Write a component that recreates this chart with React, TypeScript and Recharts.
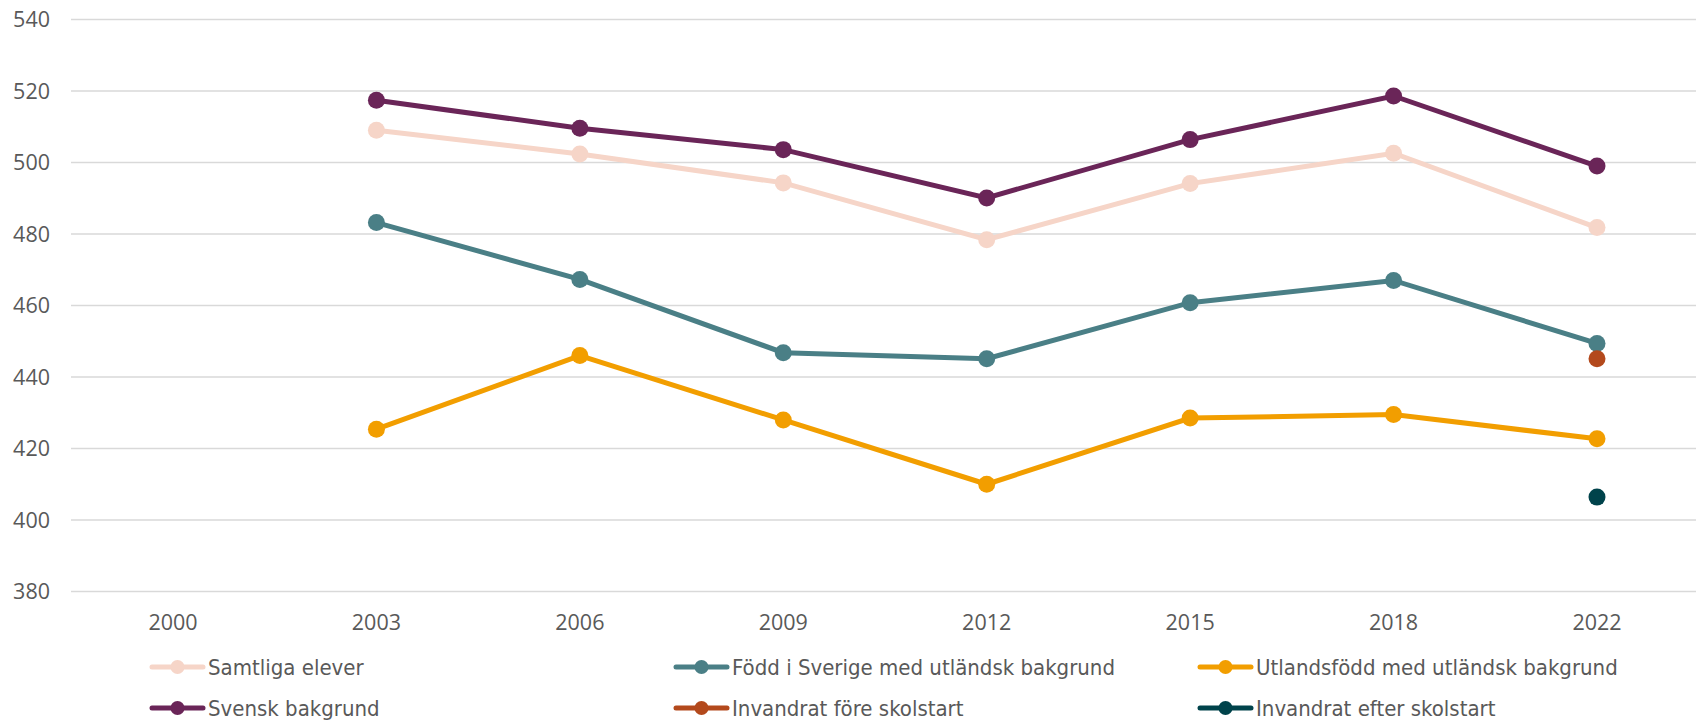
import React from 'react';
import { LineChart, Line, XAxis, YAxis, CartesianGrid, Legend } from 'recharts';

const years = ['2000', '2003', '2006', '2009', '2012', '2015', '2018', '2022'];
const yTicks = [380, 400, 420, 440, 460, 480, 500, 520, 540];

const samtliga = [null, 509.0, 502.4, 494.3, 478.4, 494.1, 502.6, 481.8];
const svensk = [null, 517.4, 509.6, 503.6, 490.1, 506.4, 518.6, 499.0];
const fodd = [null, 483.2, 467.3, 446.8, 445.1, 460.8, 467.0, 449.4];
const utlands = [null, 425.4, 446.0, 428.0, 410.0, 428.5, 429.5, 422.7];
const fore = [null, null, null, null, null, null, null, 445.1];
const efter = [null, null, null, null, null, null, null, 406.4];

const series = [
  { key: 'samtliga', name: 'Samtliga elever', color: '#F6D5C8', values: samtliga },
  { key: 'fodd', name: 'Född i Sverige med utländsk bakgrund', color: '#4A7F86', values: fodd },
  { key: 'utlands', name: 'Utlandsfödd med utländsk bakgrund', color: '#F29E00', values: utlands },
  { key: 'svensk', name: 'Svensk bakgrund', color: '#6A2558', values: svensk },
  { key: 'fore', name: 'Invandrat före skolstart', color: '#B3491C', values: fore },
  { key: 'efter', name: 'Invandrat efter skolstart', color: '#00434B', values: efter },
];

const drawOrder = ['samtliga', 'fodd', 'utlands', 'svensk', 'fore', 'efter'];

const data = years.map((year, i) => {
  const row: Record<string, any> = { year };
  series.forEach((s) => {
    row[s.key] = s.values[i];
  });
  return row;
});

const tickFont = "'Open Sans', 'DejaVu Sans', sans-serif";
const legendFont = "'Liberation Sans Narrow', 'DejaVu Sans Condensed', 'Open Sans', sans-serif";
const textColor = '#595959';

function LegendContent() {
  return (
    <div
      style={{
        display: 'grid',
        gridTemplateColumns: '524px 524px 524px',
        paddingLeft: 149,
        margin: 0,
      }}
    >
      {series.map((s) => (
        <div key={s.key} style={{ display: 'flex', alignItems: 'center', height: 41 }}>
          <svg width={57} height={20} style={{ display: 'block', flex: 'none' }}>
            <line x1={3} x2={54} y1={10} y2={10} stroke={s.color} strokeWidth={5} strokeLinecap="round" />
            <circle cx={28.5} cy={10} r={7} fill={s.color} />
          </svg>
          <span
            style={{
              marginLeft: 2,
              fontFamily: legendFont,
              fontSize: 22,
              color: textColor,
              whiteSpace: 'nowrap',
            }}
          >
            {s.name}
          </span>
        </div>
      ))}
    </div>
  );
}

export default function App() {
  return (
    <div style={{ position: 'absolute', left: 0, top: 0, width: 1696, height: 720, background: '#fff' }}>
      <LineChart
        width={1696}
        height={720}
        data={data}
        margin={{ top: 19.5, right: 0, left: 0, bottom: 16.5 }}
      >
        <CartesianGrid vertical={false} stroke="#D9D9D9" strokeWidth={1.5} />
        <XAxis
          dataKey="year"
          axisLine={false}
          tickLine={false}
          tickSize={0}
          tickMargin={23}
          height={30}
          padding={{ left: 102, right: 99 }}
          tick={{ fill: textColor, fontSize: 21.5, fontFamily: tickFont }}
          interval={0}
        />
        <YAxis
          domain={[380, 540]}
          ticks={yTicks}
          width={71}
          axisLine={false}
          tickLine={false}
          tickSize={0}
          tickMargin={21}
          tick={{ fill: textColor, fontSize: 21.5, fontFamily: tickFont }}
          interval={0}
        />
        <Legend
          content={() => <LegendContent />}
          wrapperStyle={{ top: 646.5, left: 0, width: 1696, height: 82, margin: 0, padding: 0 }}
        />
        {drawOrder.map((k) => {
          const s = series.find((x) => x.key === k)!;
          return (
            <Line
              key={s.key}
              type="linear"
              dataKey={s.key}
              name={s.name}
              stroke={s.color}
              strokeWidth={5}
              dot={{ r: 8.5, fill: s.color, stroke: 'none', strokeWidth: 0 }}
              activeDot={false}
              isAnimationActive={false}
              connectNulls={false}
            />
          );
        })}
      </LineChart>
    </div>
  );
}
